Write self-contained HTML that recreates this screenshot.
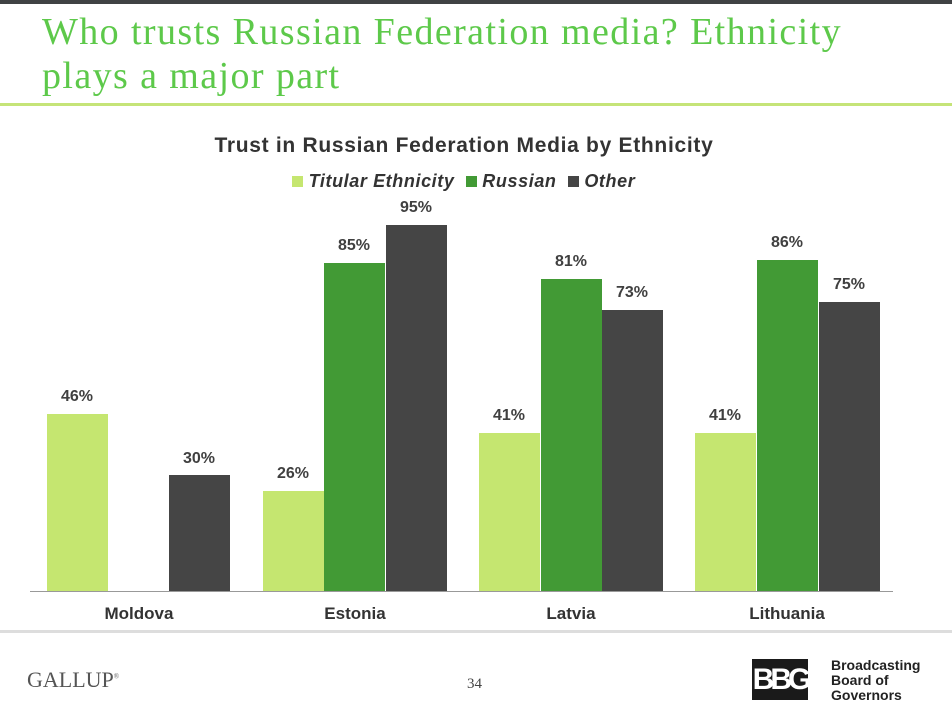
<!DOCTYPE html>
<html><head><meta charset="utf-8"><style>
body{margin:0;width:952px;height:712px;background:#fff;position:relative;overflow:hidden;font-family:"Liberation Sans",sans-serif}
.t{position:absolute;left:42px;top:10px;font-family:"Liberation Serif",serif;font-size:38px;line-height:44px;color:#5dc94a;letter-spacing:1.4px;white-space:nowrap}
.bar{position:absolute;bottom:121px;width:61px}
.l{position:absolute;width:80px;text-align:center;font-weight:bold;font-size:16px;color:#404040}
.c{position:absolute;top:604px;width:140px;text-align:center;font-weight:bold;font-size:17px;color:#333}
</style></head><body>
<div style="position:absolute;left:0;top:0;width:952px;height:4px;background:#404244"></div>
<div class="t">Who trusts Russian Federation media? Ethnicity<br>plays a major part</div>
<div style="position:absolute;left:0;top:103px;width:952px;height:3px;background:#c5e478"></div>
<div style="position:absolute;left:0;top:134px;width:928px;text-align:center;font-weight:bold;font-size:21px;letter-spacing:0.7px;color:#333">Trust in Russian Federation Media by Ethnicity</div>
<div style="position:absolute;left:292px;top:171px;font-weight:bold;font-style:italic;font-size:18px;letter-spacing:0.6px;color:#333;white-space:nowrap">
<span style="display:inline-block;width:11px;height:11px;background:#c5e670"></span> Titular Ethnicity&nbsp;
<span style="display:inline-block;width:11px;height:11px;background:#429a35"></span> Russian&nbsp;
<span style="display:inline-block;width:11px;height:11px;background:#454545"></span> Other</div>
<div style="position:absolute;left:30px;top:591px;width:863px;height:1px;background:#999"></div>
<div class="bar" style="left:47px;height:177px;background:#c5e670"></div>
<div class="bar" style="left:169px;height:116px;background:#454545"></div>
<div class="bar" style="left:263px;height:100px;background:#c5e670"></div>
<div class="bar" style="left:324px;height:328px;background:#429a35"></div>
<div class="bar" style="left:386px;height:366px;background:#454545"></div>
<div class="bar" style="left:479px;height:158px;background:#c5e670"></div>
<div class="bar" style="left:541px;height:312px;background:#429a35"></div>
<div class="bar" style="left:602px;height:281px;background:#454545"></div>
<div class="bar" style="left:695px;height:158px;background:#c5e670"></div>
<div class="bar" style="left:757px;height:331px;background:#429a35"></div>
<div class="bar" style="left:819px;height:289px;background:#454545"></div>
<div class="l" style="left:37px;top:388px">46%</div>
<div class="l" style="left:159px;top:450px">30%</div>
<div class="l" style="left:253px;top:465px">26%</div>
<div class="l" style="left:314px;top:237px">85%</div>
<div class="l" style="left:376px;top:199px">95%</div>
<div class="l" style="left:469px;top:407px">41%</div>
<div class="l" style="left:531px;top:253px">81%</div>
<div class="l" style="left:592px;top:284px">73%</div>
<div class="l" style="left:685px;top:407px">41%</div>
<div class="l" style="left:747px;top:234px">86%</div>
<div class="l" style="left:809px;top:276px">75%</div>
<div class="c" style="left:69px">Moldova</div>
<div class="c" style="left:285px">Estonia</div>
<div class="c" style="left:501px">Latvia</div>
<div class="c" style="left:717px">Lithuania</div>
<div style="position:absolute;left:0;top:630px;width:952px;height:3px;background:#ddd"></div>
<div style="position:absolute;left:27px;top:667px;font-family:'Liberation Serif',serif;font-size:22px;color:#555">GALLUP<sup style="font-size:7px">®</sup></div>
<div style="position:absolute;left:467px;top:676px;font-family:'Liberation Serif',serif;font-size:15px;color:#444">34</div>
<div style="position:absolute;left:752px;top:659px;width:56px;height:41px;background:#1a1a1a;color:#fff;font-weight:bold;font-size:30px;line-height:41px;text-align:center;letter-spacing:-4px;overflow:hidden">BBG</div>
<div style="position:absolute;left:831px;top:658px;font-weight:bold;font-size:14px;line-height:15px;color:#222">Broadcasting<br>Board of<br>Governors</div>
</body></html>
